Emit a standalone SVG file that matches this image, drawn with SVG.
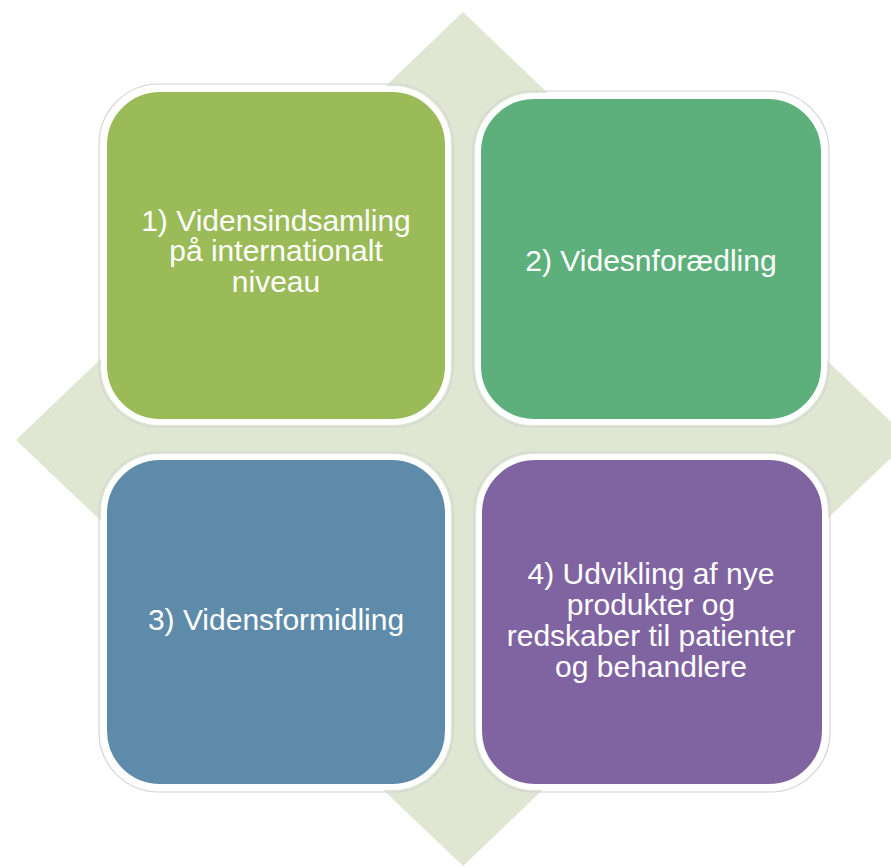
<svg xmlns="http://www.w3.org/2000/svg" width="891" height="866" viewBox="0 0 891 866">
<style>
.outline{fill:none;stroke:#d4d4d4;stroke-width:1.2}
.box{stroke:#ffffff;stroke-width:6}
.lbl{font-family:"Liberation Sans",Arial,sans-serif;font-size:30px;fill:#ffffff;text-anchor:middle}
</style>
<rect width="891" height="866" fill="#ffffff"/>
<polygon id="diamond" points="463,12 910,440 463,866 16,440" fill="#dfe7d3"/>
<g id="node1">
<rect class="outline" x="99" y="84" width="354" height="343" rx="60"/>
<rect class="box" x="104" y="89" width="344" height="333" rx="56" fill="#9bbb59"/>
<text class="lbl" x="276" y="231">1) Vidensindsamling</text>
<text class="lbl" x="276" y="261">på internationalt</text>
<text class="lbl" x="276" y="292">niveau</text>
</g>
<g id="node2">
<rect class="outline" x="473" y="91" width="356" height="336" rx="60"/>
<rect class="box" x="478" y="96" width="346" height="326" rx="56" fill="#5db07b"/>
<text class="lbl" x="651" y="271">2) Videsnforædling</text>
</g>
<g id="node3">
<rect class="outline" x="99" y="452" width="354" height="340" rx="60"/>
<rect class="box" x="104" y="457" width="344" height="330" rx="56" fill="#5f8baa"/>
<text class="lbl" x="276" y="630">3) Vidensformidling</text>
</g>
<g id="node4">
<rect class="outline" x="474" y="452" width="356" height="340" rx="60"/>
<rect class="box" x="479" y="457" width="346" height="330" rx="56" fill="#8064a2"/>
<text class="lbl" x="651" y="584">4) Udvikling af nye</text>
<text class="lbl" x="651" y="615">produkter og</text>
<text class="lbl" x="651" y="646">redskaber til patienter</text>
<text class="lbl" x="651" y="677">og behandlere</text>
</g>
<g id="connectors"/>
</svg>
